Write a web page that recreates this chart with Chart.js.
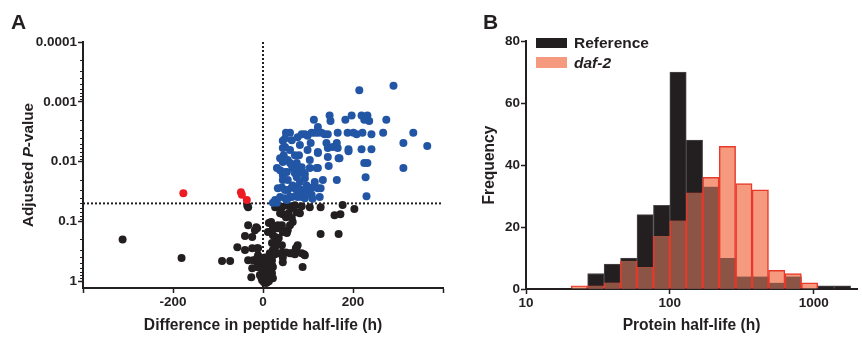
<!DOCTYPE html>
<html>
<head>
<meta charset="utf-8">
<script src="https://cdn.jsdelivr.net/npm/chart.js@4.4.0/dist/chart.umd.min.js"></script>
<style>
  body { margin: 0; background: #fff; }
  #wrap { position: relative; width: 862px; height: 337px; overflow: hidden;
          font-family: "Liberation Sans", Arial, sans-serif; font-weight: bold; color: #231f20; }
  #cA { position: absolute; left: 0; top: 0; }
  #cB { position: absolute; left: 450px; top: 0; }
  .txt { position: absolute; white-space: nowrap; line-height: 1; }
  .panel { font-size: 21px; }
  .box { position: absolute; }
</style>
</head>
<body>
<div id="wrap">
  <canvas id="cA" width="450" height="337"></canvas>
  <canvas id="cB" width="412" height="337"></canvas>
  <div class="txt panel" style="left:11px;top:11px;">A</div>
  <div class="txt panel" style="left:483px;top:11px;">B</div>
  <div class="txt" style="left:28px;top:165px;font-size:15.3px;transform:translate(-50%,-50%) rotate(-90deg);">Adjusted <i>P</i>-value</div>
  <div class="box" style="left:536px;top:38px;width:31px;height:10px;background:#231f20;"></div>
  <div class="txt" style="left:574px;top:35px;font-size:15.5px;">Reference</div>
  <div class="box" style="left:536px;top:57px;width:31px;height:11px;background:#f59a7e;"></div>
  <div class="txt" style="left:574px;top:55px;font-size:15.5px;font-style:italic;">daf-2</div>
</div>
<script>
const ink = '#231f20';

// Panel A: difference in half-life (h) vs adjusted P-value
const bluePts = [
  [290,5.4e-4],[214,6.4e-4],
  [113,2.0e-3],[148,1.7e-3],[150,2.1e-3],[183,2.0e-3],[197,1.7e-3],[219,1.7e-3],[225,2.0e-3],[232,1.7e-3],[236,2.1e-3],[274,2.0e-3],[122,2.65e-3],
  [51,3.3e-3],[60,3.3e-3],[86,3.5e-3],[93,3.5e-3],[108,3.3e-3],[115,3.3e-3],[122,3.3e-3],[130,3.3e-3],[137,3.5e-3],[144,3.5e-3],[166,3.3e-3],[188,3.3e-3],[201,3.3e-3],[208,3.5e-3],[221,3.3e-3],[241,3.5e-3],[267,3.3e-3],[334,3.3e-3],
  [44,4.5e-3],[64,4.4e-3],[106,4.9e-3],[141,4.9e-3],[164,4.9e-3],[312,4.9e-3],[365,5.5e-3],
  [49,5.7e-3],[60,6.4e-3],[99,6.4e-3],[144,5.9e-3],[166,5.9e-3],[190,6.2e-3],[190,6.7e-3],[219,6.2e-3],[241,6.2e-3],
  [46,7.8e-3],[80,7.8e-3],[122,7.2e-3],[144,8.4e-3],[168,8.8e-3],
  [31,0.0128],[38,0.0139],[60,0.0106],[66,0.0128],[75,0.0106],[82,0.0128],[88,0.015],[122,0.0128],[146,0.0119],[225,0.0106],[232,0.0106],[312,0.0128],
  [44,0.0168],[53,0.015],[71,0.0156],[77,0.0162],[93,0.0162],[115,0.022],[133,0.0204],[164,0.0204],[228,0.0182],
  [33,0.028],[42,0.027],[49,0.030],[55,0.030],[64,0.027],[71,0.028],[77,0.027],[86,0.030],[93,0.0325],[99,0.030],[110,0.027],[128,0.028],
  [38,0.039],[49,0.041],[64,0.039],[77,0.039],[93,0.041],[110,0.042],[126,0.039],[230,0.038],[22,0.049],[31,0.049],
  [49,4.1e-3],[77,3.9e-3],[99,3.7e-3],[44,5.9e-3],[122,6.9e-3],[155,5.7e-3],[44,0.0102],[55,9.4e-3],[64,0.0115],[86,0.0124],
  [104,0.0128],[119,0.0128],[170,8.8e-3],[49,0.015],[75,0.0182],[93,0.019],[122,0.028],[66,0.025],[97,0.025],[60,0.039],
  [75,0.036],[86,0.039],[108,0.036],[27,0.044],[53,0.044],[38,8.8e-3],[44,0.0204],[104,9.4e-3],[82,5.3e-3],[71,7.8e-3],
  [55,0.0204],[82,0.022]
];
const redPts = [[-177,0.034],[-49,0.0325],[-47,0.036],[-36,0.044]];
const blackPts = [
  [-312,0.20],[-181,0.41],[-91,0.46],[-73,0.46],[-57,0.27],[-40,0.30],[-33,0.116],[-40,0.176],[-24,0.183],[-18,0.14],
  [-15,0.125],[-35,0.054],[-33,0.058],[-24,0.28],[-13,0.28],[-33,0.445],[-22,0.445],[-13,0.41],[-24,0.61],[-11,0.58],
  [-26,0.86],[0,0.655],[4,0.86],[-2,0.96],[9,1.04],[-11,0.367],[-7,0.445],[-7,0.79],[4,0.89],[9,0.96],
  [13,0.106],[11,0.151],[22,0.13],[33,0.116],[38,0.13],[22,0.17],[31,0.206],[20,0.23],[27,0.27],[22,0.30],
  [15,0.34],[20,0.445],[18,0.50],[22,0.58],[11,0.655],[20,0.74],[15,0.86],[9,0.89],[22,0.89],
  [44,0.33],[51,0.33],[60,0.34],[71,0.353],[44,0.48],[44,0.40],[73,0.28],[77,0.25],[91,0.353],
  [44,0.0757],[51,0.085],[57,0.073],[42,0.058],[53,0.054],[60,0.056],[64,0.088],[66,0.102],[60,0.116],[55,0.14],
  [75,0.07],[82,0.073],[86,0.056],[128,0.058],[159,0.0786],[172,0.0757],[177,0.053],[203,0.062],[128,0.163],[168,0.163],
  [86,0.34],[88,0.58],[93,0.367],[27,0.058],[38,0.073],[64,0.06],[71,0.0535],[104,0.058],
  [18,0.102],[31,0.13],[42,0.116],[44,0.151],[53,0.157],[27,0.183],[35,0.19],[31,0.23],[42,0.25],[75,0.27],
  [64,0.34],[38,0.34],[27,0.353],[-13,0.13],[-11,0.28],[4,0.40],[9,0.48],[2,0.61],[-2,0.74],[9,0.79],
  [0,0.96],[11,0.71],[15,0.41],[20,0.54],[-11,0.48],[-13,0.58],[7,1.07],[2,1.04],[13,1.0],[-4,0.86],
  [7,0.56],[0,0.48],[38,0.056]
];
const pCutoff = 0.05;
const xTicksA = [-400, -200, 0, 200, 400];
const xLabelsA = ['', '-200', '0', '200', ''];
const yTicksA = [0.0001, 0.001, 0.01, 0.1, 1];
const yLabelsA = ['0.0001', '0.001', '0.01', '0.1', '1'];

// Panel B: histogram of protein half-life (h), log-spaced bins
const binEdges = [20.6, 26.8, 34.9, 45.4, 59.1, 76.9, 100, 130, 169, 220, 287, 373, 485, 631, 821, 1068, 1389, 1807];
const refCounts = [0, 5, 8, 10, 24, 27, 70, 48, 33, 10, 4, 4, 2, 4, 0, 1, 1];
const daf2Counts = [1, 1, 2, 9, 7, 17, 22, 31, 36, 46, 34, 32, 6, 5, 2, 0, 0];
const xTicksB = [10, 100, 1000];
const yTicksB = [0, 20, 40, 60, 80];

const tickFont = { family: 'Liberation Sans', weight: 'bold', size: 13.5 };
const titleFont = { family: 'Liberation Sans', weight: 'bold', size: 15.6 };

// short unlabeled ticks between the decades of a log axis
const minorTicks = {
  id: 'minorTicks',
  afterDraw(chart, args, opts) {
    if (!opts.values) return;
    const s = chart.scales[opts.axis];
    const ctx = chart.ctx;
    ctx.save();
    ctx.strokeStyle = ink;
    ctx.lineWidth = 1;
    opts.values.forEach(v => {
      const y = Math.round(s.getPixelForValue(v)) + 0.5;
      ctx.beginPath();
      ctx.moveTo(s.right - 3, y);
      ctx.lineTo(s.right, y);
      ctx.stroke();
    });
    ctx.restore();
  }
};

const yMinorA = [];
for (let d = -4; d < 0; d++) {
  for (let m = 2; m <= 9; m++) yMinorA.push(m * Math.pow(10, d));
}

const toXY = pts => pts.map(p => ({ x: p[0], y: p[1] }));
const dot = 4;

new Chart(document.getElementById('cA'), {
  type: 'scatter',
  data: {
    datasets: [
      { data: toXY(blackPts), backgroundColor: ink, pointRadius: dot, pointBorderWidth: 0, order: 3 },
      { data: toXY(bluePts), backgroundColor: '#2256a5', pointRadius: dot, pointBorderWidth: 0, order: 2 },
      { data: toXY(redPts), backgroundColor: '#ed1c24', pointRadius: dot, pointBorderWidth: 0, order: 1 },
      { type: 'line', data: [{ x: -400, y: pCutoff }, { x: 400, y: pCutoff }], borderColor: ink, borderWidth: 2,
        borderDash: [2, 2], pointRadius: 0, order: 10 },
      { type: 'line', data: [{ x: 0, y: 0.0001 }, { x: 0, y: 1.3 }], borderColor: ink, borderWidth: 2,
        borderDash: [2, 2], pointRadius: 0, order: 10 }
    ]
  },
  options: {
    responsive: false,
    animation: false,
    layout: { padding: { top: 42, right: 7, left: 0, bottom: 0 } },
    plugins: { legend: { display: false }, tooltip: { enabled: false },
               minorTicks: { axis: 'y', values: yMinorA } },
    scales: {
      x: {
        type: 'linear', min: -400, max: 400,
        afterBuildTicks: s => { s.ticks = xTicksA.map(v => ({ value: v })); },
        afterFit: s => { s.height = 49; },
        ticks: { autoSkip: false, maxRotation: 0, padding: 1, color: ink, font: tickFont,
                 callback: (v, i) => xLabelsA[i] },
        grid: { drawOnChartArea: false, drawTicks: true, tickLength: 5, tickColor: ink, tickWidth: 1.5 },
        border: { color: ink, width: 2 },
        title: { display: true, text: 'Difference in peptide half-life (h)', color: ink, font: titleFont,
                 padding: { top: 0, bottom: 2 } }
      },
      y: {
        type: 'logarithmic', reverse: true, min: 0.0001, max: 1.3,
        afterBuildTicks: s => { s.ticks = yTicksA.map(v => ({ value: v })); },
        afterFit: s => { s.width = 83; },
        ticks: { autoSkip: false, padding: 1, color: ink, font: tickFont,
                 callback: (v, i) => yLabelsA[i] },
        grid: { drawOnChartArea: false, drawTicks: true, tickLength: 5, tickColor: ink, tickWidth: 1.5 },
        border: { color: ink, width: 2 }
      }
    }
  },
  plugins: [minorTicks]
});

const centers = refCounts.map((c, i) => Math.sqrt(binEdges[i] * binEdges[i + 1]));
const overlap = refCounts.map((c, i) => Math.min(c, daf2Counts[i]));
const toBars = counts => counts.map((c, i) => ({ x: centers[i], y: c > 0 ? c : null }));

new Chart(document.getElementById('cB'), {
  type: 'bar',
  data: {
    datasets: [
      { label: 'Reference', data: toBars(refCounts), backgroundColor: ink, borderColor: '#4d494a',
        borderWidth: 1, order: 3 },
      { label: 'daf-2', data: toBars(daf2Counts), backgroundColor: '#f59a7e', borderColor: '#e8392b',
        borderWidth: 1.5, order: 2 },
      { label: 'overlap', data: toBars(overlap), backgroundColor: '#8b5444', borderColor: '#e33a2c',
        borderWidth: { top: 0, left: 1.5, right: 1.5, bottom: 0 }, order: 1 }
    ]
  },
  options: {
    responsive: false,
    animation: false,
    grouped: false,
    barPercentage: 1,
    categoryPercentage: 1,
    layout: { padding: { top: 41, right: 5, left: 0, bottom: 0 } },
    plugins: { legend: { display: false }, tooltip: { enabled: false } },
    scales: {
      x: {
        type: 'logarithmic', min: 10, max: 2000, offset: false,
        afterBuildTicks: s => { s.ticks = xTicksB.map(v => ({ value: v })); },
        afterFit: s => { s.height = 48; },
        ticks: { autoSkip: false, maxRotation: 0, padding: 1, color: ink, font: tickFont,
                 callback: (v, i) => String(xTicksB[i]) },
        grid: { offset: false, drawOnChartArea: false, drawTicks: true, tickLength: 5, tickColor: ink, tickWidth: 1.5 },
        border: { color: ink, width: 2 },
        title: { display: true, text: 'Protein half-life (h)', color: ink, font: titleFont,
                 padding: { top: 0, bottom: 2 } }
      },
      y: {
        min: 0, max: 80,
        afterBuildTicks: s => { s.ticks = yTicksB.map(v => ({ value: v })); },
        afterFit: s => { s.width = 76; },
        ticks: { autoSkip: false, padding: 1, color: ink, font: tickFont },
        grid: { drawOnChartArea: false, drawTicks: true, tickLength: 5, tickColor: ink, tickWidth: 1.5 },
        border: { color: ink, width: 2 },
        title: { display: true, text: 'Frequency', color: ink, font: titleFont, padding: { top: 30, bottom: 0 } }
      }
    }
  }
});
</script>
</body>
</html>
